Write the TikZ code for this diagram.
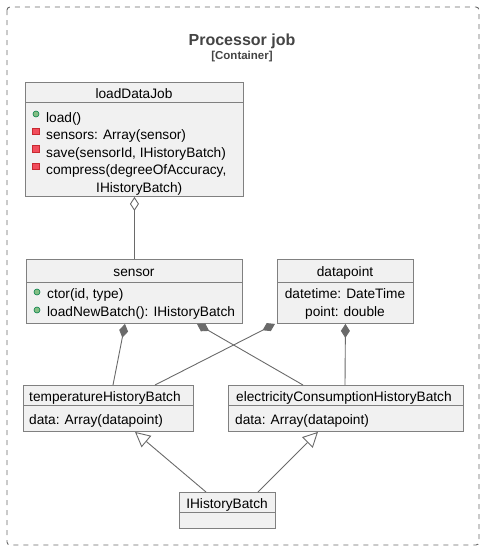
\documentclass[tikz,border=0pt]{standalone}
\usepackage{fontspec}
\setmainfont{Liberation Sans}
\usetikzlibrary{arrows.meta,calc}
\definecolor{boxfill}{HTML}{F1F1F1}
\definecolor{boxline}{HTML}{808080}
\definecolor{conline}{HTML}{6A6A6A}
\definecolor{titlegray}{HTML}{444444}
\definecolor{pubfill}{HTML}{84BE84}
\definecolor{publine}{HTML}{038048}
\definecolor{privfill}{HTML}{F24D5C}
\definecolor{privline}{HTML}{C82930}
\tikzset{
  classbox/.style={draw=boxline, fill=boxfill, line width=0.9pt, inner sep=0pt, anchor=north west},
  member/.style={inner sep=0pt, anchor=base west, font=\fontsize{13.7}{16}\selectfont},
  cmember/.style={inner sep=0pt, anchor=base, font=\fontsize{13.7}{16}\selectfont},
  pubicon/.style={circle, draw=publine, fill=pubfill, line width=0.6pt, minimum size=6pt, inner sep=0pt},
  privicon/.style={rectangle, draw=privline, fill=privfill, line width=0.6pt, minimum size=6.5pt, inner sep=0pt},
  conn/.style={draw=conline, line width=0.9pt},
  aggr/.style={conn, {Diamond[open, length=14pt, width=9pt, fill=white]}-},
  comp/.style={conn, {Diamond[length=14pt, width=9pt, fill=conline]}-},
  gen/.style={conn, -{Triangle[open, length=15pt, width=15pt, fill=white]}},
}
\begin{document}
\begin{tikzpicture}[x=1pt, y=-1pt]
\useasboundingbox (0,0) rectangle (485,550);
% frame
\draw[draw=conline, line width=0.9pt, dash pattern=on 5pt off 5pt, rounded corners=3pt] (7,7) rectangle (479,545);
\node[text=titlegray, font=\bfseries\fontsize{16}{18}\selectfont, inner sep=0pt] (title) at (242,41) {Processor job};
\node[text=titlegray, font=\bfseries\fontsize{11.5}{13}\selectfont, inner sep=0pt] (stereo) at (242,57) {[Container]};

% loadDataJob
\node[classbox, minimum width=218pt, minimum height=114pt] (ldj) at (25,82) {};
\draw[draw=boxline, line width=0.9pt] ([yshift=-20.5pt]ldj.north west) -- ([yshift=-20.5pt]ldj.north east);
\node[cmember] (ldjt) at (134,98) {loadDataJob};
\node[pubicon] (i1) at (36,114) {};
\node[privicon] (i2) at (36,131.5) {};
\node[privicon] (i3) at (36,149) {};
\node[privicon] (i4) at (36,166.5) {};
\node[member] (m1) at (46,122) {load()};
\node[member] (m2) at (46,139.5) {sensors: Array(sensor)};
\node[member] (m3) at (46,157) {save(sensorId, IHistoryBatch)};
\node[member] (m4) at (46,174.5) {compress(degreeOfAccuracy,};
\node[member] (m5) at (96,192) {IHistoryBatch)};

% sensor
\node[classbox, minimum width=216pt, minimum height=64pt] (sensor) at (26,259) {};
\draw[draw=boxline, line width=0.9pt] ([yshift=-23pt]sensor.north west) -- ([yshift=-23pt]sensor.north east);
\node[cmember] (sensort) at (134,276) {sensor};
\node[pubicon] (s1) at (37,292) {};
\node[pubicon] (s2) at (37,310) {};
\node[member] (sm1) at (47,298) {ctor(id, type)};
\node[member] (sm2) at (47,316) {loadNewBatch(): IHistoryBatch};

% datapoint
\node[classbox, minimum width=136pt, minimum height=64pt] (dp) at (277,259) {};
\draw[draw=boxline, line width=0.9pt] ([yshift=-23pt]dp.north west) -- ([yshift=-23pt]dp.north east);
\node[cmember] (dpt) at (345,276) {datapoint};
\node[cmember] (dp1) at (345,298) {datetime: DateTime};
\node[cmember] (dp2) at (345,316.5) {point: double};

% temperatureHistoryBatch
\node[classbox, minimum width=170pt, minimum height=46pt] (temp) at (23,385) {};
\draw[draw=boxline, line width=0.9pt] ([yshift=-20pt]temp.north west) -- ([yshift=-20pt]temp.north east);
\node[member] (tempt) at (29,401.5) {temperatureHistoryBatch};
\node[member] (temp1) at (29,424.5) {data: Array(datapoint)};

% electricityConsumptionHistoryBatch
\node[classbox, minimum width=235pt, minimum height=46pt] (elec) at (228,385) {};
\draw[draw=boxline, line width=0.9pt] ([yshift=-20pt]elec.north west) -- ([yshift=-20pt]elec.north east);
\node[member] (elect) at (236,401.5) {electricityConsumptionHistoryBatch};
\node[member] (elec1) at (235,424.5) {data: Array(datapoint)};

% IHistoryBatch
\node[classbox, minimum width=96pt, minimum height=36pt] (ihb) at (179,492) {};
\draw[draw=boxline, line width=0.9pt] ([yshift=-20pt]ihb.north west) -- ([yshift=-20pt]ihb.north east);
\node[cmember] (ihbt) at (227,508.5) {IHistoryBatch};

% connectors
\draw[aggr] (ldj.south) -- (sensor.north);
\draw[comp] ([xshift=99pt]sensor.south west) -- ([xshift=90pt]temp.north west);
\draw[comp] ([xshift=171pt]sensor.south west) -- ([xshift=75pt]elec.north west);
\draw[comp] ([xshift=-2pt]dp.south west) -- ([xshift=132pt]temp.north west);
\draw[comp] (dp.south) -- ([xshift=117pt]elec.north west);
\draw[gen] ([xshift=27pt]ihb.north west) -- ([xshift=112pt]temp.south west);
\draw[gen] ([xshift=-18pt]ihb.north east) -- ([xshift=90pt]elec.south west);
\end{tikzpicture}
\end{document}
